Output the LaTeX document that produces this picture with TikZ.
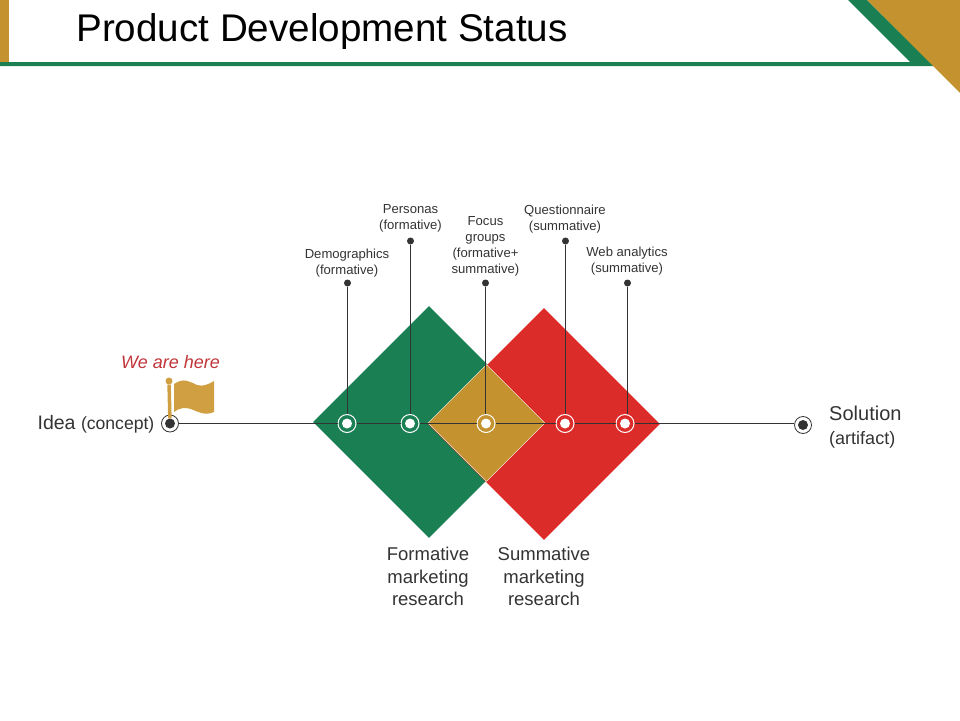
\documentclass[tikz,border=0pt]{standalone}
\usepackage{fontspec}
\setmainfont{Liberation Sans}
\usetikzlibrary{shapes.geometric}
\definecolor{mygreen}{HTML}{1B7F54}
\definecolor{mygold}{HTML}{C4922F}
\definecolor{myred}{HTML}{DC2C2A}
\definecolor{myflag}{HTML}{CF9F42}
\definecolor{myink}{HTML}{333333}
\definecolor{myhere}{HTML}{C0353A}
\begin{document}
\begin{tikzpicture}[x=1pt,y=-1pt,
  square/.style={shape=diamond,aspect=1,inner sep=0pt,minimum size=#1},
  ring/.style={shape=circle,draw=white,line width=1pt,inner sep=0pt,minimum size=18pt},
  endring/.style={shape=circle,draw=myink,line width=0.8pt,inner sep=0pt,minimum size=17pt},
  pin/.style={shape=circle,fill=myink,inner sep=0pt,minimum size=7pt},
  tiny label/.style={align=center,text=myink,font=\fontsize{13.1}{16}\selectfont},
  big label/.style={align=center,text=myink,font=\fontsize{18.5}{22.8}\selectfont},
  wire/.style={draw=myink,line width=1pt}]
\useasboundingbox (0,0) rectangle (960,720);
% header
\fill [mygold] (0,0) rectangle (9,62);
\fill [mygreen] (848,0) -- (867,0) -- (934,66) -- (0,66) -- (0,62) -- (910,62) -- cycle;
\fill [mygold] (867,0) -- (960,0) -- (960,93) -- cycle;
\node (title) at (322,32) [text=black,font=\fontsize{38.6}{44}\selectfont] {Product Development Status};
% diamonds
\node (green) at (429,422) [square=232pt,fill=mygreen] {};
\node (red) at (544,424) [square=232pt,fill=myred] {};
\node (both) at (486.5,423) [square=117pt,fill=mygold,draw=white,line width=0.4pt] {};
% flag
\fill [myflag] (174,384) .. controls (184,377) and (190,382) .. (197,385) .. controls (203,387) and (209,384) .. (214,381)
  -- (214,412) .. controls (205,416) and (198,412) .. (191,409) .. controls (185,407) and (179,408) .. (174,412) -- cycle;
\node (ball) at (169,381) [shape=circle,fill=myflag,inner sep=0pt,minimum size=7pt] {};
% rings on the line
\node (start) at (170,423.5) [endring] {};
\node (finish) at (803,425) [endring] {};
\node (ringA) at (347,423.5) [ring] {};
\node (ringB) at (410,423.5) [ring] {};
\node (ringC) at (486,423.5) [ring] {};
\node (ringD) at (565,423.5) [ring] {};
\node (ringE) at (625,423.5) [ring] {};
\node at (start) [shape=circle,fill=myink,inner sep=0pt,minimum size=10pt] (startdot) {};
\node at (finish) [shape=circle,fill=myink,inner sep=0pt,minimum size=10pt] (finishdot) {};
\foreach \n in {A,B,C,D,E}
  \node at (ring\n) [shape=circle,fill=white,inner sep=0pt,minimum size=10pt] (dot\n) {};
% pins
\node (pinA) at (347.5,283) [pin] {};
\node (pinB) at (410.5,241) [pin] {};
\node (pinC) at (485.5,283) [pin] {};
\node (pinD) at (565.5,241) [pin] {};
\node (pinE) at (627.5,283) [pin] {};
\draw [wire,myflag,line width=3.5pt] (ball) -- (startdot);
\draw [wire] (start) -- (ringA);
\draw [wire] (ringA) -- (ringB);
\draw [wire] (ringB) -- (ringC);
\draw [wire] (ringC) -- (ringD);
\draw [wire] (ringD) -- (ringE);
\draw [wire] (ringE) -- (ringE -| finish.west);
\foreach \n in {A,B,C,D,E}
  \draw [wire] (pin\n) -- (pin\n |- ring\n.north);
% labels
\node (idea) at (96,424.5) [text=myink,font=\fontsize{19.5}{22}\selectfont] {Idea {\fontsize{17.6}{20}\selectfont (concept)}};
\node (solution) at (825.7,427.5) [anchor=west,align=left,text=myink,font=\fontsize{20}{24}\selectfont] {Solution\\{\fontsize{18}{24}\selectfont (artifact)}};
\node (here) at (170.5,362) [text=myhere,font=\fontsize{18}{20}\selectfont\itshape] {We are here};
\node (demo) at (347,263.5) [tiny label] {Demographics\\(formative)};
\node (pers) at (410.5,218.5) [tiny label] {Personas\\(formative)};
\node (focus) at (485.5,246) [tiny label] {Focus\\groups\\(formative+\\summative)};
\node (quest) at (565,219.5) [tiny label] {Questionnaire\\(summative)};
\node (web) at (627,261.5) [tiny label] {Web analytics\\(summative)};
\node (form) at (428,576.5) [big label] {Formative\\marketing\\research};
\node (summ) at (544,576.5) [big label] {Summative\\marketing\\research};
\end{tikzpicture}
\end{document}
